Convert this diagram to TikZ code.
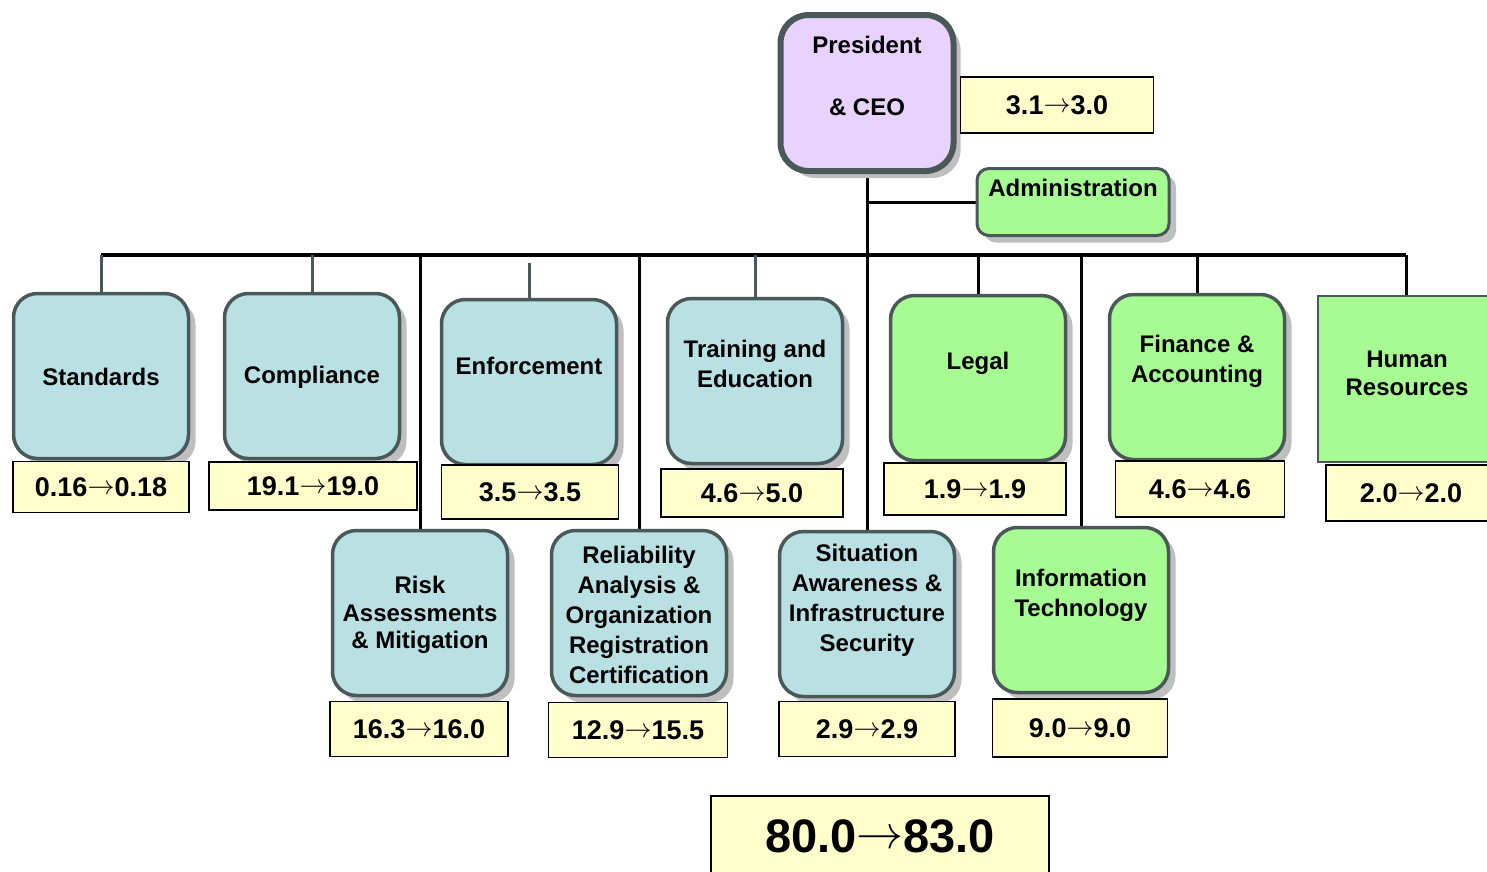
\documentclass[tikz,border=0pt]{standalone}
\usepackage{fix-cm}
\usepackage{xcolor}
\usepackage{fontspec}
\setmainfont{Liberation Sans}
\usepackage{tikz}
\usetikzlibrary{positioning,shadows,backgrounds}

\definecolor{deptblue}{HTML}{B9E0E3}
\definecolor{deptgreen}{HTML}{A6FB92}
\definecolor{ceolilac}{HTML}{E8D3FF}
\definecolor{valyellow}{HTML}{FFFFCC}
\definecolor{edgegray}{HTML}{4A5858}

\newcommand{\toarr}{\raisebox{0.08em}{$\rightarrow$}}

\begin{document}
\begin{tikzpicture}[
  x=1pt, y=-1pt,
  dept/.style={rectangle, rounded corners=24pt, minimum width=175pt, minimum height=165pt,
               draw=edgegray, line width=3.5pt, inner sep=0pt,
               drop shadow={shadow xshift=7pt, shadow yshift=-7pt, fill=black!25, opacity=1}},
  txt/.style={font=\fontsize{24}{30}\selectfont\bfseries, align=center, inner sep=0pt},
  val/.style={rectangle, draw=black, line width=1.8pt, fill=valyellow, inner sep=0pt,
              font=\fontsize{27}{30}\selectfont\bfseries},
  drop/.style={draw=edgegray, line width=3pt},
  link/.style={draw=black, line width=3pt},
  busline/.style={draw=black, line width=3.5pt}
]
\useasboundingbox (0,0) rectangle (1487,871);

% President and administration
\node[dept, fill=ceolilac, minimum width=173pt, minimum height=156pt, line width=6pt,
      rounded corners=28pt] (pres) at (867,93) {};
\node[txt] (pres-t) at (867,76) {President\\[32pt]\& CEO};
\node[dept, fill=deptgreen, minimum width=192pt, minimum height=67pt, line width=3pt,
      rounded corners=12pt, drop shadow={shadow xshift=6pt, shadow yshift=-6pt, fill=black!25, opacity=1}]
  (adm) at (1073,202) {};
\node[txt] (adm-t) at (1073,188) {Administration};

% First row
\node[dept, fill=deptblue] (std) at (101,376) {};
\node[txt] (std-t) at (101,377) {Standards};
\node[dept, fill=deptblue] (cmp) at (312,376) {};
\node[txt] (cmp-t) at (312,377) {Compliance};
\node[dept, fill=deptblue] (enf) at (529,382) {};
\node[txt] (enf-t) at (529,366) {Enforcement};
\node[dept, fill=deptblue] (trn) at (755,381) {};
\node[txt] (trn-t) at (755,364) {Training and\\Education};
\node[dept, fill=deptgreen] (leg) at (978,378) {};
\node[txt] (leg-t) at (978,363) {Legal};
\node[dept, fill=deptgreen] (fin) at (1197,377) {};
\node[txt] (fin-t) at (1197,361) {Finance \&\\Accounting};
\node[rectangle, draw=edgegray, line width=2pt, fill=deptgreen, minimum width=176pt,
      minimum height=166pt] (hr) at (1406,379) {};
\node[txt, font=\fontsize{24}{28}\selectfont\bfseries] (hr-t) at (1407,373) {Human\\Resources};

% Second row
\node[dept, fill=deptblue] (risk) at (420,613) {};
\node[txt, font=\fontsize{24}{27.5}\selectfont\bfseries] (risk-t) at (420,615) {Risk\\Assessments\\\& Mitigation};
\node[dept, fill=deptblue] (rel) at (639,613) {};
\node[txt] (rel-t) at (639,615) {Reliability\\Analysis \&\\Organization\\Registration\\Certification};
\node[dept, fill=deptblue] (sit) at (867,614) {};
\node[txt] (sit-t) at (867,600) {Situation\\Awareness \&\\Infrastructure\\Security};
\node[dept, fill=deptgreen] (it) at (1081,610) {};
\node[txt] (it-t) at (1081,595) {Information\\Technology};

% Budget values
\node[val, minimum width=193pt, minimum height=56pt] (pres-v) at (1057,105) {3.1\toarr3.0};
\node[val, minimum width=176pt, minimum height=51pt] (std-v) at (101,487) {0.16\toarr0.18};
\node[val, minimum width=208pt, minimum height=48pt] (cmp-v) at (313,486) {19.1\toarr19.0};
\node[val, minimum width=177pt, minimum height=54pt] (enf-v) at (530,492) {3.5\toarr3.5};
\node[val, minimum width=182pt, minimum height=48pt] (trn-v) at (752,493) {4.6\toarr5.0};
\node[val, minimum width=182pt, minimum height=52pt] (leg-v) at (975,489) {1.9\toarr1.9};
\node[val, minimum width=169pt, minimum height=56pt] (fin-v) at (1200,489) {4.6\toarr4.6};
\node[val, minimum width=170pt, minimum height=56pt] (hr-v) at (1411,493) {2.0\toarr2.0};
\node[val, minimum width=178pt, minimum height=55pt] (risk-v) at (419,729) {16.3\toarr16.0};
\node[val, minimum width=179pt, minimum height=55pt] (rel-v) at (638,730) {12.9\toarr15.5};
\node[val, minimum width=176pt, minimum height=55pt] (sit-v) at (867,729) {2.9\toarr2.9};
\node[val, minimum width=175pt, minimum height=58pt] (it-v) at (1080,728) {9.0\toarr9.0};
\node[val, minimum width=338pt, minimum height=80pt, line width=2pt,
      font=\fontsize{47}{50}\selectfont\bfseries] (total) at (880,836) {80.0\toarr83.0};

% Connectors
\coordinate (bus) at (867,255);
\coordinate (enftop) at (533,263);
\begin{scope}[on background layer]
  \draw[busline] (std.north |- bus) -- (hr.north |- bus);
  \draw[link] (pres.south) -- (sit.north);
  \draw[link] (pres.south |- adm.west) -- (adm.west);
  % grey drops
  \draw[drop] (std.north) -- (std.north |- bus);
  \draw[drop] (cmp.north) -- (cmp.north |- bus);
  \draw[drop] (enf.north) -- (enf.north |- enftop);
  \draw[drop] (trn.north) -- (trn.north |- bus);
  % black drops
  \draw[link] (leg.north) -- (leg.north |- bus);
  \draw[link] (fin.north) -- (fin.north |- bus);
  \draw[link] (hr.north) -- (hr.north |- bus);
  \draw[link] (risk.north) -- (risk.north |- bus);
  \draw[link] (rel.north) -- (rel.north |- bus);
  \draw[link] (it.north) -- (it.north |- bus);
\end{scope}

\end{tikzpicture}
\end{document}
